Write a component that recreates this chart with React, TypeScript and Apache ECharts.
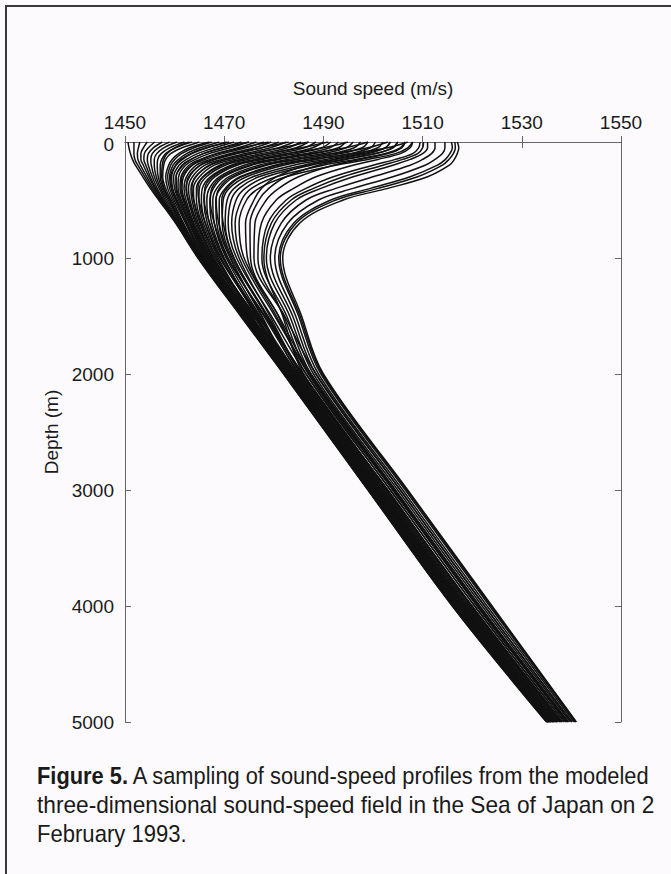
import React, { useEffect, useRef } from "react";
import * as echarts from "echarts";

// Depth levels (m) at which each profile's sound speed (m/s) was read
const depths = [0, 50, 100, 150, 200, 300, 400, 500, 700, 1000, 1500, 2000, 3000, 4000, 5000];

// Warm-surface profiles (right-hand curves with a deep minimum)
const warmProfiles = [
  [1517, 1517.3, 1517, 1516.4, 1515.4, 1511, 1503, 1494, 1485.2, 1481.8, 1485.6, 1490, 1507, 1524, 1541],
  [1516.5, 1516.6, 1516.2, 1515.3, 1514, 1509, 1501, 1492.5, 1484.5, 1481.3, 1485.3, 1489.8, 1506.8, 1523.8, 1540.9],
  [1515.8, 1516, 1515.5, 1514.6, 1513, 1507.5, 1499.5, 1491.5, 1484, 1481, 1485, 1489.5, 1506.5, 1523.5, 1540.8],
  [1514.5, 1514.5, 1514, 1512.5, 1510.5, 1504, 1496, 1489, 1482.8, 1480.2, 1484.4, 1489, 1506, 1523, 1540.5],
  [1512.5, 1512.5, 1511.8, 1510, 1507.5, 1500, 1492.5, 1486.5, 1481.5, 1479.3, 1483.8, 1488.5, 1505.5, 1522.5, 1540.1],
  [1511, 1511, 1510, 1507.5, 1504, 1496, 1489.5, 1484.5, 1480.2, 1478.5, 1483.2, 1488, 1505, 1522, 1539.8],
  [1510.2, 1510, 1509, 1506, 1502, 1494, 1488, 1483.5, 1479.5, 1478, 1481.8, 1486, 1503, 1520, 1538.2],
  [1509.5, 1509.2, 1508, 1504.5, 1500, 1492, 1486.5, 1482.5, 1478.8, 1477.6, 1482.6, 1487.5, 1504.5, 1521.5, 1539.4],
  [1508, 1507.5, 1505.5, 1501, 1496, 1488.5, 1484, 1480.5, 1477.5, 1476.8, 1482, 1487, 1504, 1521, 1539],
  [1506.5, 1505.8, 1503, 1497.5, 1492, 1485, 1481, 1478.5, 1476.2, 1476, 1482.2, 1488.5, 1505.5, 1522.5, 1540.1],
  [1505, 1504, 1500.5, 1494.5, 1489, 1482.5, 1479, 1477, 1475.2, 1475.3, 1480.9, 1486.5, 1503.5, 1520.5, 1538.6],
  [1503.5, 1502.5, 1498, 1492, 1486.5, 1480.5, 1477.5, 1476, 1474.3, 1474.7, 1481, 1487.5, 1504.5, 1521.5, 1539.4],
];

// Intermediate profiles (mixed layer, sharp thermocline, minimum at 300-500 m)
const midProfiles = [
  [1508, 1507, 1504.5, 1499, 1492.5, 1482.5, 1477, 1474.5, 1473, 1474, 1480.5, 1487, 1504, 1521, 1539],
  [1506.5, 1505.5, 1502.5, 1496.5, 1490, 1480.5, 1475.5, 1473.5, 1472.2, 1473.5, 1480.2, 1487.2, 1504.2, 1521.2, 1539.2],
  [1505, 1504, 1500.5, 1494, 1487.5, 1478.5, 1474.2, 1472.4, 1471.5, 1473, 1479.2, 1485.5, 1502.5, 1519.5, 1537.8],
  [1503.5, 1502.5, 1499, 1492.5, 1486, 1477, 1473, 1471.4, 1470.8, 1472.5, 1479.5, 1486.5, 1503.5, 1520.5, 1538.6],
  [1502, 1501, 1497, 1490.5, 1484, 1475.8, 1472, 1470.6, 1470.2, 1472, 1478.5, 1485, 1502, 1519, 1537.4],
  [1500.5, 1499.5, 1495.5, 1488.5, 1482, 1474.5, 1471, 1469.8, 1469.6, 1471.6, 1478.6, 1485.5, 1502.5, 1519.5, 1537.8],
  [1499, 1497.8, 1493.5, 1486.5, 1480.2, 1473.2, 1470.2, 1469, 1469, 1471.2, 1477.6, 1484, 1501, 1518, 1536.6],
  [1497.5, 1496.2, 1491.8, 1484.5, 1478.5, 1472, 1469.3, 1468.3, 1468.5, 1470.8, 1478, 1485.2, 1502.2, 1519.2, 1537.6],
  [1496, 1494.6, 1490, 1482.8, 1477, 1470.9, 1468.5, 1467.7, 1468, 1470.4, 1477.2, 1484, 1501, 1518, 1536.6],
  [1494.5, 1493, 1488.2, 1481, 1475.5, 1469.9, 1467.8, 1467.1, 1467.5, 1470, 1476.4, 1482.8, 1499.8, 1516.8, 1535.6],
  [1493, 1491.3, 1486.4, 1479.3, 1474, 1469, 1467, 1466.5, 1467, 1469.7, 1477, 1484.3, 1501.3, 1518.3, 1537],
  [1491.5, 1489.6, 1484.6, 1477.7, 1472.6, 1468.1, 1466.3, 1465.9, 1466.6, 1469.4, 1476.5, 1483.6, 1500.6, 1517.6, 1536.4],
  [1490, 1487.8, 1482.8, 1476.2, 1471.4, 1467.2, 1465.6, 1465.4, 1466.2, 1469.1, 1476.8, 1484.5, 1501.5, 1518.5, 1537.1],
  [1488.5, 1486.2, 1481, 1474.8, 1470.2, 1466.4, 1465, 1464.9, 1465.8, 1468.8, 1475.6, 1482.5, 1499.5, 1516.5, 1535.4],
  [1487, 1484.5, 1479.2, 1473.4, 1469.1, 1465.7, 1464.4, 1464.4, 1465.5, 1468.5, 1476, 1483.5, 1500.5, 1517.5, 1536.4],
  [1485.5, 1482.8, 1477.5, 1472, 1468, 1465, 1463.8, 1463.9, 1465.1, 1468.2, 1476.3, 1484.4, 1501.4, 1518.4, 1537],
  [1484, 1481, 1475.8, 1470.7, 1467, 1464.3, 1463.3, 1463.5, 1464.8, 1467.9, 1475.2, 1482.6, 1499.6, 1516.6, 1535.5],
  [1482.5, 1479.3, 1474.2, 1469.5, 1466.1, 1463.6, 1462.8, 1463.1, 1464.5, 1467.6, 1475.4, 1483.2, 1500.2, 1517.2, 1536],
  [1481, 1477.6, 1472.6, 1468.3, 1465.2, 1463, 1462.3, 1462.7, 1464.2, 1467.4, 1475.9, 1484.4, 1501.4, 1518.4, 1537],
  [1479.5, 1476, 1471.1, 1467.2, 1464.4, 1462.4, 1461.9, 1462.3, 1463.9, 1467.2, 1474.8, 1482.4, 1499.4, 1516.4, 1535.3],
  [1478, 1474.4, 1469.7, 1466.2, 1463.6, 1461.8, 1461.5, 1462, 1463.7, 1467, 1475, 1483, 1500, 1517, 1535.8],
  [1476.5, 1472.8, 1468.3, 1465.2, 1462.9, 1461.3, 1461.1, 1461.7, 1463.5, 1466.8, 1475.4, 1484, 1501, 1518, 1536.6],
  [1475, 1471.2, 1467, 1464.2, 1462.2, 1460.8, 1460.7, 1461.4, 1463.3, 1466.6, 1474.5, 1482.3, 1499.3, 1516.3, 1535.2],
  [1473.5, 1469.6, 1465.8, 1463.3, 1461.5, 1460.3, 1460.3, 1461.1, 1463.1, 1466.4, 1474.8, 1483.2, 1500.2, 1517.2, 1536],
  [1472, 1468.1, 1464.6, 1462.4, 1460.9, 1459.8, 1460, 1460.8, 1462.9, 1466.2, 1474.2, 1482.2, 1499.2, 1516.2, 1535.2],
  [1470.5, 1466.6, 1463.5, 1461.6, 1460.3, 1459.4, 1459.6, 1460.5, 1462.6, 1466, 1474.5, 1483, 1500, 1517, 1535.8],
  [1469, 1465.2, 1462.4, 1460.8, 1459.7, 1459, 1459.3, 1460.2, 1462.4, 1465.8, 1474, 1482.2, 1499.2, 1516.2, 1535.2],
  [1467.5, 1463.9, 1461.4, 1460, 1459.2, 1458.6, 1459, 1459.9, 1462.2, 1465.6, 1474.2, 1482.8, 1499.8, 1516.8, 1535.6],
];

// Profiles whose thermocline starts right at the surface
const shallowProfiles = [
  [1507, 1503, 1496, 1488, 1481, 1473.5, 1470.5, 1469.5, 1469.8, 1471.9, 1478.8, 1485.8, 1502.8, 1519.8, 1538],
  [1503, 1499, 1492, 1484.5, 1478, 1471.5, 1469, 1468.4, 1468.9, 1471.3, 1477.5, 1483.6, 1500.6, 1517.6, 1536.4],
  [1499, 1494.5, 1487.5, 1480.5, 1475, 1469.5, 1467.5, 1467.2, 1468, 1470.6, 1478.2, 1485.9, 1502.9, 1519.9, 1538.1],
  [1495, 1490, 1483, 1477, 1472, 1467.6, 1466.1, 1466, 1467.1, 1469.9, 1476.6, 1483.4, 1500.4, 1517.4, 1536.2],
  [1491, 1485.5, 1479, 1473.5, 1469.5, 1465.8, 1464.7, 1464.9, 1466.2, 1469.2, 1477, 1484.8, 1501.8, 1518.8, 1537.2],
  [1487, 1481.5, 1475.5, 1470.5, 1467.2, 1464.2, 1463.5, 1463.8, 1465.3, 1468.5, 1475.6, 1482.8, 1499.8, 1516.8, 1535.6],
  [1483, 1477.5, 1472, 1467.8, 1465.2, 1462.8, 1462.4, 1462.8, 1464.5, 1467.8, 1476.2, 1484.6, 1501.6, 1518.6, 1537.1],
  [1479, 1473.5, 1468.8, 1465.5, 1463.4, 1461.5, 1461.3, 1461.9, 1463.7, 1467.1, 1475.1, 1483, 1500, 1517, 1535.8],
  [1475, 1469.8, 1465.8, 1463.3, 1461.7, 1460.3, 1460.4, 1461.1, 1463, 1466.4, 1475.3, 1484.2, 1501.2, 1518.2, 1536.8],
  [1471, 1466.3, 1463.2, 1461.3, 1460.2, 1459.2, 1459.5, 1460.4, 1462.4, 1465.9, 1474, 1482.2, 1499.2, 1516.2, 1535.2],
  [1467, 1463, 1460.8, 1459.5, 1458.8, 1458.2, 1458.6, 1459.6, 1461.8, 1465.4, 1473.9, 1482.5, 1499.5, 1516.5, 1535.4],
  [1463, 1460, 1458.5, 1457.8, 1457.5, 1457.4, 1457.9, 1459, 1461.3, 1465.2, 1474.1, 1483, 1500, 1517, 1535.8],
];

// Cold-surface profiles (left envelope)
const coldProfiles = [
  [1465, 1461.5, 1459.2, 1458.2, 1457.8, 1457.6, 1458.2, 1459.3, 1461.7, 1465.6, 1474.3, 1483, 1500, 1517, 1535.8],
  [1463.5, 1460.2, 1458.2, 1457.4, 1457.1, 1457.1, 1457.8, 1459, 1461.5, 1465.5, 1474.6, 1483.8, 1500.8, 1517.8, 1536.4],
  [1462, 1459, 1457.3, 1456.6, 1456.5, 1456.7, 1457.5, 1458.7, 1461.3, 1465.4, 1474, 1482.6, 1499.6, 1516.6, 1535.5],
  [1460.5, 1457.8, 1456.4, 1455.9, 1455.9, 1456.3, 1457.2, 1458.4, 1461.1, 1465.3, 1474.2, 1483.2, 1500.2, 1517.2, 1536],
  [1459, 1456.7, 1455.5, 1455.2, 1455.3, 1455.9, 1456.9, 1458.1, 1460.9, 1465.2, 1473.8, 1482.4, 1499.4, 1516.4, 1535.3],
  [1457.5, 1455.7, 1454.7, 1454.5, 1454.7, 1455.5, 1456.5, 1457.8, 1460.7, 1465.1, 1474.4, 1483.6, 1500.6, 1517.6, 1536.3],
  [1456, 1454.7, 1453.9, 1453.8, 1454.2, 1455.1, 1456.2, 1457.6, 1460.6, 1465, 1473.6, 1482.2, 1499.2, 1516.2, 1535.2],
  [1454.5, 1453.7, 1453.2, 1453.2, 1453.7, 1454.8, 1456, 1457.4, 1460.5, 1464.9, 1474, 1483, 1500, 1517, 1535.8],
  [1453, 1452.7, 1452.5, 1452.6, 1453.1, 1454.4, 1455.7, 1457.2, 1460.4, 1464.8, 1473.4, 1482, 1499, 1516, 1535],
  [1451.8, 1451.8, 1451.8, 1452, 1452.6, 1454, 1455.4, 1457, 1460.3, 1464.8, 1473.5, 1482.4, 1499.4, 1516.4, 1535.3],
  [1450.6, 1450.8, 1451.1, 1451.5, 1452.1, 1453.6, 1455.1, 1456.8, 1460.2, 1464.7, 1473.3, 1482, 1499, 1516, 1535],
];

const captionLines = [
  "A sampling of sound-speed profiles from the modeled",
  "three-dimensional sound-speed field in the Sea of Japan on 2",
  "February 1993.",
];
const captionLead = "Figure 5.";

const FONT = "'Liberation Sans', Arial, Helvetica, sans-serif";
const BG = "#fcfafc";
const INK = "#1a1a1a";

export default function App() {
  const ref = useRef<HTMLDivElement>(null);

  useEffect(() => {
    if (!ref.current) return;
    const chart = echarts.init(ref.current, undefined, { renderer: "svg" });
    const allProfiles = [...warmProfiles, ...midProfiles, ...shallowProfiles, ...coldProfiles];
    const series = allProfiles.map((p, k) => ({
      type: "line",
      name: "profile" + k,
      data: depths.map((d, i) => [p[i], d]),
      showSymbol: false,
      smooth: 0.35,
      silent: true,
      xAxisIndex: 0,
      yAxisIndex: 0,
      lineStyle: { color: "#111", width: 1.5 },
    }));

    const axisLineStyle = { color: "#666", width: 1 };
    const plain = (v: number) => String(v);
    const depthLabel = (v: number) => (v === 0 ? "{z|0}" : String(v));
    chart.setOption({
      animation: false,
      backgroundColor: BG,
      textStyle: { fontFamily: FONT },
      grid: { left: 125, right: 50, top: 142, bottom: 152, containLabel: false },
      xAxis: [
        {
          type: "value",
          position: "top",
          min: 1450,
          max: 1550,
          interval: 20,
          name: "Sound speed (m/s)",
          nameLocation: "middle",
          nameGap: 44,
          nameTextStyle: { fontSize: 19, color: INK, fontFamily: FONT },
          axisLine: { show: true, lineStyle: axisLineStyle },
          axisTick: { show: true, inside: true, length: 6, lineStyle: axisLineStyle },
          axisLabel: { fontSize: 19, color: INK, margin: 12, lineHeight: 16, fontFamily: FONT, formatter: plain },
          splitLine: { show: false },
        },
        {
          type: "value",
          position: "bottom",
          min: 1450,
          max: 1550,
          interval: 20,
          axisLine: { show: true, lineStyle: axisLineStyle },
          axisTick: { show: true, inside: true, length: 6, lineStyle: axisLineStyle },
          axisLabel: { show: false },
          splitLine: { show: false },
        },
      ],
      yAxis: [
        {
          type: "value",
          inverse: true,
          position: "left",
          min: 0,
          max: 5000,
          interval: 1000,
          name: "Depth (m)",
          nameLocation: "middle",
          nameGap: 64,
          nameRotate: 90,
          nameTextStyle: { fontSize: 19, color: INK, fontFamily: FONT },
          axisLine: { show: true, lineStyle: axisLineStyle },
          axisTick: { show: true, inside: true, length: 6, lineStyle: axisLineStyle },
          axisLabel: {
            fontSize: 19,
            color: INK,
            margin: 11,
            lineHeight: 14,
            fontFamily: FONT,
            formatter: depthLabel,
            rich: {
              z: { fontSize: 19, color: INK, fontFamily: FONT, lineHeight: 14, padding: [5, 0, 0, 0] },
            },
          },
          splitLine: { show: false },
        },
        {
          type: "value",
          inverse: true,
          position: "right",
          min: 0,
          max: 5000,
          interval: 1000,
          axisLine: { show: true, lineStyle: axisLineStyle },
          axisTick: { show: true, inside: true, length: 6, lineStyle: axisLineStyle },
          axisLabel: { show: false },
          splitLine: { show: false },
        },
      ],
      graphic: [
        {
          type: "rect",
          shape: { x: 6, y: 6, width: 720, height: 920 },
          style: { fill: "none", stroke: "#3a3a3a", lineWidth: 2 },
          silent: true,
        },
        {
          type: "text",
          x: 37,
          y: 788,
          scaleX: 0.91,
          style: {
            text: "{b|" + captionLead + "} " + captionLines[0],
            fontSize: 24,
            fontFamily: FONT,
            fill: INK,
            verticalAlign: "bottom",
            rich: { b: { fontWeight: "bold", fontSize: 24, fontFamily: FONT, fill: INK } },
          },
        },
        {
          type: "text",
          x: 37,
          y: 817,
          scaleX: 0.945,
          style: { text: captionLines[1], fontSize: 24, fontFamily: FONT, fill: INK, verticalAlign: "bottom" },
        },
        {
          type: "text",
          x: 37,
          y: 846,
          scaleX: 0.92,
          style: { text: captionLines[2], fontSize: 24, fontFamily: FONT, fill: INK, verticalAlign: "bottom" },
        },
      ],
      series,
    });
    return () => chart.dispose();
  }, []);

  return (
    <div
      ref={ref}
      style={{ position: "absolute", left: 0, top: 0, width: 671, height: 874, background: BG }}
    />
  );
}
